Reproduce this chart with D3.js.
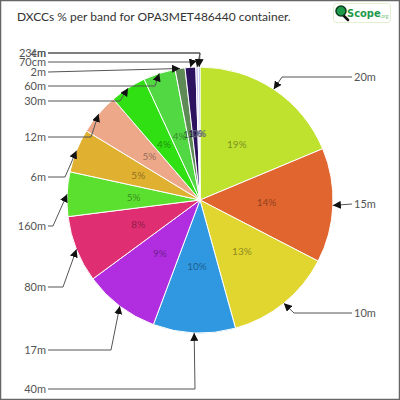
<!DOCTYPE html>
<html><head><meta charset="utf-8">
<script src="https://cdn.jsdelivr.net/npm/d3@7"></script>
<style>body{margin:0;background:#fff}svg{display:block}</style>
</head><body>
<svg id="c" width="400" height="400"></svg>
<script>
// ---- data ----
const bands  = ["20m","15m","10m","40m","17m","80m","160m","6m","12m","30m","60m","2m","70cm","23cm","4m"];
const values = [18.7, 13.9, 13.1, 10.0, 9.2, 8.1, 5.4, 5.3, 5.0, 4.4, 3.9, 1.2, 1.3, 0.3, 0.2];
const colors = ["#bfe22f","#e0652f","#e0d62f","#2f98e0","#b02ee0","#e02e72","#5ce030","#e0b030","#eda88a","#30e012","#52d842","#5e8a56","#2d1260","#c8c8f0","#9aa0e0"];
// ---- label layout (annotation placement) ----
const labelSide = ["r","r","r","l","l","l","l","l","l","l","l","l","l","l","l"];
const labelY    = [77, 204, 313, 389, 350, 287, 226, 177, 137, 101, 86, 72, 62, 53, 53];
const kneeX     = [282, null, 294, 195, 111, 63, 53, 65, 91, 120, 155, null, 192, 200, 200];

const svg = d3.select("#c");
const W = 400, H = 400, cx = 200, cy = 200, R = 133;
const font = "Lato, 'Open Sans', sans-serif";

svg.append("rect").attr("x",0.5).attr("y",0.5).attr("width",W-1).attr("height",H-1)
  .attr("fill","#fff").attr("stroke","#666").attr("stroke-width",1.5);

svg.append("text").attr("x",17).attr("y",21).attr("font-family",font).attr("font-size",12)
  .attr("fill","#333").text("DXCCs % per band for OPA3MET486440 container.");

// logo
const logo = svg.append("g");
logo.append("rect").attr("x",333.5).attr("y",3.5).attr("width",57).attr("height",19).attr("rx",3)
  .attr("fill","#fff").attr("stroke","#e4efcf");
logo.append("line").attr("x1",343).attr("y1",15).attr("x2",348).attr("y2",20).attr("stroke","#111").attr("stroke-width",2.5).attr("stroke-linecap","round");
logo.append("circle").attr("cx",341).attr("cy",11).attr("r",5).attr("fill","#1f9a4a").attr("stroke","#0b3d1a").attr("stroke-width",1.5);
logo.append("text").attr("x",347).attr("y",17).attr("font-family","'DejaVu Sans Condensed', sans-serif").attr("font-weight","bold")
  .attr("font-size",11).attr("fill","#1f9a4a").text("Scope");
logo.append("text").attr("x",380).attr("y",18).attr("font-family",font).attr("font-size",5).attr("fill","#7cc57c").text(".org");

const total = d3.sum(values);
const pie = d3.pie().sort(null).value(d => d)(values);
const arc = d3.arc().innerRadius(0).outerRadius(R);
const labArc = d3.arc().innerRadius(R*0.5).outerRadius(R*0.5);

const g = svg.append("g").attr("transform",`translate(${cx},${cy})`);
g.selectAll("path.s").data(pie).join("path").attr("class","s")
  .attr("d",arc).attr("fill",(d,i)=>colors[i]).attr("stroke","#fff").attr("stroke-width",1);

g.selectAll("text.p").data(pie).join("text").attr("class","p")
  .attr("transform",d=>`translate(${labArc.centroid(d)})`)
  .attr("text-anchor","middle").attr("dy","0.35em")
  .attr("font-family",font).attr("font-size",10)
  .attr("fill",(d,i)=>d3.color(colors[i]).darker(1.6))
  .attr("fill-opacity",0.85)
  .text(d=>Math.round(d.data/total*100)+"%");

// arrows
svg.append("defs").append("marker").attr("id","ah")
  .attr("viewBox","0 0 10 10").attr("refX",10).attr("refY",5)
  .attr("markerWidth",8).attr("markerHeight",8).attr("markerUnits","userSpaceOnUse")
  .attr("orient","auto").append("path").attr("d","M0,0L10,5L0,10z").attr("fill","#111");

const lines = svg.append("g");
pie.forEach((d,i)=>{
  const a = (d.startAngle+d.endAngle)/2;
  const tx = cx + R*Math.sin(a), ty = cy - R*Math.cos(a);
  const y = labelY[i];
  const x0 = labelSide[i]==="r" ? 352 : 48;
  const pts = [[x0,y]];
  if (kneeX[i]!==null) pts.push([kneeX[i],y]);
  pts.push([tx,ty]);
  lines.append("path").attr("d",d3.line()(pts)).attr("fill","none")
    .attr("stroke","#555").attr("stroke-width",1).attr("marker-end","url(#ah)");
  lines.append("text").attr("x",labelSide[i]==="r"?354:46).attr("y",y).attr("dy","0.35em")
    .attr("text-anchor",labelSide[i]==="r"?"start":"end")
    .attr("font-family",font).attr("font-size",11).attr("fill","#555").text(bands[i]);
});
</script>
</body></html>
